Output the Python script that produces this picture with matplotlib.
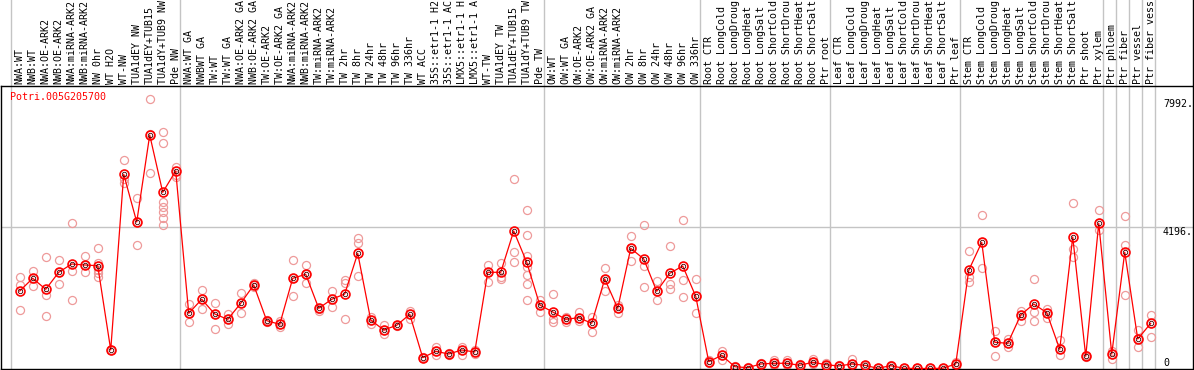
#!/usr/bin/env python
# -*- coding: utf-8 -*-

"""Expression profile of Potri.005G205700 across samples."""

import matplotlib.pyplot as plt
import numpy as np
from matplotlib.transforms import blended_transform_factory

plt.rcParams["font.family"] = ["DejaVu Sans Mono"]

gene = "Potri.005G205700"

labels = [
    "NWA:WT", "NWB:WT", "NWA:OE-ARK2", "NWB:OE-ARK2", "NWA:miRNA-ARK2",
    "NWB:miRNA-ARK2", "NW 0hr", "WT H2O", "WT-NW", "TUA1dEY NW",
    "TUA1dEY+TUB15", "TUA1dY+TUB9 NW", "Pde NW",
    "NWA:WT GA", "NWBWT GA", "TW:WT", "TW:WT GA", "NWA:OE-ARK2 GA",
    "NWB:OE-ARK2 GA", "TW:OE-ARK2", "TW:OE-ARK2 GA", "NWA:miRNA-ARK2",
    "NWB:miRNA-ARK2", "TW:miRNA-ARK2", "TW:miRNA-ARK2", "TW 2hr", "TW 8hr",
    "TW 24hr", "TW 48hr", "TW 96hr", "TW 336hr", "WT ACC", "35S::etr1-1 H2",
    "35S::etr1-1 AC", "LMX5::etr1-1 H", "LMX5::etr1-1 A", "WT-TW",
    "TUA1dEY TW", "TUA1dEY+TUB15", "TUA1dY+TUB9 TW", "Pde TW",
    "OW:WT", "OW:WT GA", "OW:OE-ARK2", "OW:OE-ARK2 GA", "OW:miRNA-ARK2",
    "OW:miRNA-ARK2", "OW 2hr", "OW 8hr", "OW 24hr", "OW 48hr", "OW 96hr",
    "OW 336hr",
    "Root CTR", "Root LongCold", "Root LongDroug", "Root LongHeat",
    "Root LongSalt", "Root ShortCold", "Root ShortDrou", "Root ShortHeat",
    "Root ShortSalt", "Ptr root",
    "Leaf CTR", "Leaf LongCold", "Leaf LongDroug", "Leaf LongHeat",
    "Leaf LongSalt", "Leaf ShortCold", "Leaf ShortDrou", "Leaf ShortHeat",
    "Leaf ShortSalt", "Ptr leaf",
    "Stem CTR", "Stem LongCold", "Stem LongDroug", "Stem LongHeat",
    "Stem LongSalt", "Stem ShortCold", "Stem ShortDrou", "Stem ShortHeat",
    "Stem ShortSalt", "Ptr shoot", "Ptr xylem",
    "Ptr phloem", "Ptr fiber", "Ptr vessel", "Ptr fiber vess",
]

group_sizes = [13, 28, 12, 10, 10, 11, 1, 1, 1, 1]

means = [
    2294, 2670, 2344, 2848, 3093, 3064, 3043, 548, 5749, 4337, 6912, 5216, 5847,
    1634, 2049, 1613, 1456, 1930, 2472, 1415, 1308, 2670, 2789, 1782, 2049,
    2205, 3410, 1436, 1140, 1279, 1604, 320, 509, 429, 548, 488, 2848, 2848,
    4070, 3144, 1880,
    1673, 1456, 1504, 1338, 2650, 1782, 3558, 3242, 2285, 2818, 3034, 2137,
    201, 390, 53, 24, 133, 154, 154, 95, 184, 113,
    74, 133, 95, 6, 83, 6, 0, 0, 6, 133,
    2907, 3736, 776, 746, 1584, 1909, 1652, 568, 3893, 361, 4298,
    429, 3440, 873, 1338,
]

replicates = [
    [2709, 2472, 1732], [2886, 2433, 2670], [3292, 2185, 1545],
    [3203, 2492, 2848], [4298, 2886, 2028], [3330, 2866, 3064],
    [3567, 3132, 2916, 2836, 2700], [560, 540, 548], [6163, 5601, 5482],
    [5047, 3656, 4337], [7992, 5787, 6950],
    [7001, 6667, 4929, 4772, 4624, 4455, 4248], [5974, 5728, 5660],
    [1909, 1368, 1634], [2315, 1752, 2049], [1930, 1169, 1613],
    [1613, 1308, 1456], [2235, 1634, 1930], [2540, 2420, 2472],
    [1440, 1415, 1390], [1415, 1229, 1308], [3203, 2146, 2670],
    [3055, 2522, 2789], [1711, 1782, 1760], [2294, 1829, 2049],
    [2620, 2520, 1465], [3854, 3706, 2738], [1533, 1308, 1436],
    [1288, 1012, 1140], [1279, 1300, 1260], [1711, 1474, 1604],
    [340, 300, 320], [628, 400, 509], [429, 450, 410], [645, 400, 548],
    [548, 430, 488], [3064, 2552, 2848], [3123, 2718, 2640],
    [5610, 3440, 3144], [4692, 3943, 3340, 3010, 2760, 2502, 2028],
    [2028, 1682, 1880],
    [2205, 1456, 1368], [1533, 1368, 1456], [1682, 1400, 1504],
    [1533, 1089, 1338], [2966, 2303, 2650], [1880, 1652, 1782],
    [3922, 3191, 3558], [4239, 3043, 2404], [2581, 2019, 2285],
    [3626, 2492, 2344], [4387, 2611, 2108], [2641, 1634, 2137],
    [250, 201, 160], [527, 390, 260], [53, 40, 60], [24, 20, 30],
    [133, 150, 120], [252, 154, 100], [252, 154, 100], [140, 95, 60],
    [272, 184, 120], [160, 113, 80],
    [74, 60, 90], [272, 133, 60], [95, 80, 110], [6, 10, 0], [83, 60, 100],
    [6, 0, 10], [0, 0, 0], [0, 0, 0], [6, 0, 10], [200, 133, 70],
    [3470, 2718, 2570], [4535, 2966, 3736], [1101, 379, 776],
    [864, 645, 746], [1693, 1415, 1584], [2641, 1673, 1406],
    [1761, 1486, 1652], [844, 400, 568], [4890, 3537, 3310],
    [361, 330, 390], [4692, 4100, 4298],
    [520, 290, 429], [4506, 3647, 2167], [1140, 628, 873], [1575, 924, 1338],
]

ytick_values = [7992, 4196, 0]
ytick_labels = ["7992.", "4196.", "0"]

red = "#ff0000"
pink = "#ee9a9a"
grid = "#c4c4c4"
fs = 7.2

fig = plt.figure(figsize=(11.94, 3.70), dpi=100)
ax = fig.add_axes([1 / 1194, 1 / 370, 1192 / 1194, 283 / 370])

x = np.arange(len(labels))

# separators between sample groups, running up through the label strip
bounds = np.concatenate([[0], np.cumsum(group_sizes)]) - 0.65
for b in bounds:
    ax.axvline(b, ymin=0, ymax=1 + 86 / 283, color=grid, lw=1.0,
               clip_on=False, zorder=0)
ax.axhline(4196, color=grid, lw=1.0, zorder=0)

for xi, reps in zip(x, replicates):
    ax.plot([xi] * len(reps), reps, "o", ms=5.8, mfc="none", mec=pink,
            mew=0.9, zorder=2)

ax.plot(x, means, "-", color=red, lw=0.9, zorder=3)
ax.plot(x, means, "o", ms=6.4, mfc="none", mec=red, mew=1.2, zorder=4)
ax.plot(x, means, "o", ms=3.2, mfc="none", mec="#400000", mew=0.6, zorder=5)

ax.set_xlim(-1.44, 90.25)
ax.set_ylim(-15, 8363)

ax.xaxis.tick_top()
ax.set_xticks(x)
ax.set_xticklabels(labels, rotation=90, fontsize=fs)
ax.tick_params(axis="x", length=0, pad=1.4)
ax.set_yticks([])
for s in ax.spines.values():
    s.set_color("black")
    s.set_linewidth(1.0)

# right border continues up around the label strip
ax.plot([1, 1], [1, 1 + 86 / 283], color="black", lw=1.0,
        transform=ax.transAxes, clip_on=False)

tr = blended_transform_factory(ax.transAxes, ax.transData)
for v, lab in zip(ytick_values, ytick_labels):
    ax.text(1162 / 1192, v, lab, transform=tr, fontsize=fs, ha="left",
            va="top" if v > 0 else "bottom")

ax.text(9 / 1192, 0.961, gene, transform=ax.transAxes, color=red,
        fontsize=fs, ha="left", va="center")

fig.savefig("out.png", dpi=100)
